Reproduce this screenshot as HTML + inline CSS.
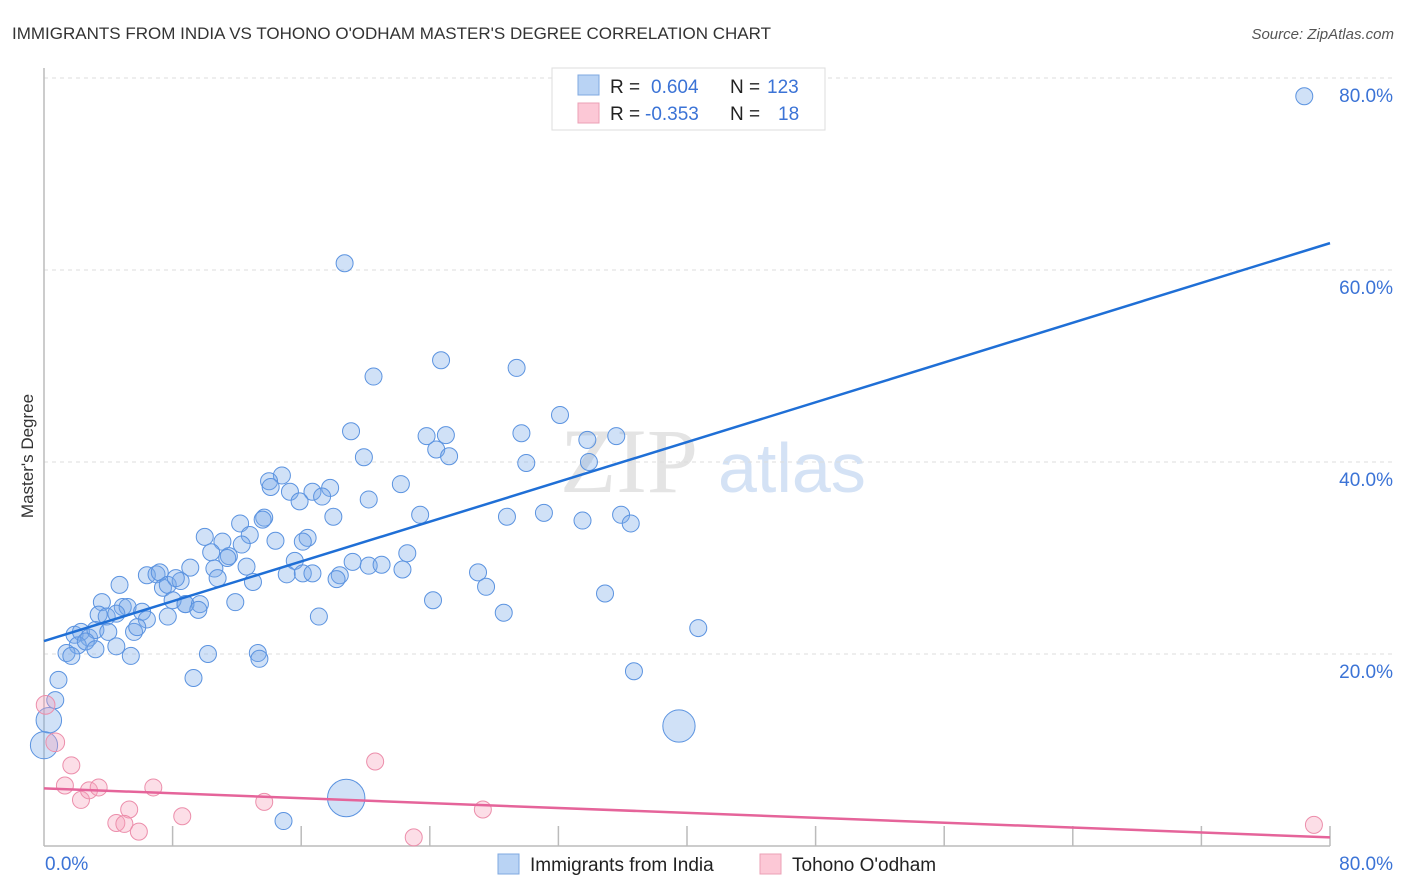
<!DOCTYPE html>
<html><head><meta charset="utf-8"><style>
body{margin:0;background:#fff;font-family:"Liberation Sans",sans-serif;}
#wrap{position:relative;width:1406px;height:892px;overflow:hidden;}
</style></head><body>
<div id="wrap">
<svg id="svg" width="1406" height="892" xmlns="http://www.w3.org/2000/svg">
<text x="12" y="39" font-size="17" fill="#333">IMMIGRANTS FROM INDIA VS TOHONO O'ODHAM MASTER'S DEGREE CORRELATION CHART</text>
<text x="1394" y="39" font-size="15" fill="#555" font-style="italic" text-anchor="end">Source: ZipAtlas.com</text>
<text transform="translate(33,456) rotate(-90)" font-size="17" fill="#333" text-anchor="middle">Master's Degree</text>
<text x="560" y="492" font-size="92" fill="#e4e4e4" font-family="Liberation Serif,serif">ZIP</text>
<text x="718" y="492" font-size="70" fill="#d4e2f5">atlas</text>
<g id="grid"></g>
<line x1="44" y1="68" x2="44" y2="846" stroke="#bbb" stroke-width="1.5"/>
<line x1="44" y1="846" x2="1330" y2="846" stroke="#bbb" stroke-width="1.5"/>
<g id="xticks"></g>
<g id="blue"></g>
<g id="pink"></g>
<g id="lines"></g>
<text x="45" y="870" font-size="19" fill="#3b73d6">0.0%</text>
<text x="1393" y="870" font-size="19" fill="#3b73d6" text-anchor="end">80.0%</text>
<g>
<rect x="552" y="68" width="273" height="62" fill="#fff" stroke="#ddd"/>
<rect x="578" y="75" width="21" height="20" fill="#b9d3f4" stroke="#7fa8e0"/>
<rect x="578" y="103" width="21" height="20" fill="#fcc8d6" stroke="#eba0b6"/>
<text x="610" y="93" font-size="19" fill="#222">R =</text>
<text x="651" y="93" font-size="19" fill="#3b73d6">0.604</text>
<text x="730" y="93" font-size="19" fill="#222">N =</text>
<text x="767" y="93" font-size="19" fill="#3b73d6">123</text>
<text x="610" y="120" font-size="19" fill="#222">R =</text>
<text x="645" y="120" font-size="19" fill="#3b73d6">-0.353</text>
<text x="730" y="120" font-size="19" fill="#222">N =</text>
<text x="778" y="120" font-size="19" fill="#3b73d6">18</text>
</g>
<g>
<rect x="498" y="854" width="21" height="20" fill="#b9d3f4" stroke="#7fa8e0"/>
<text x="530" y="871" font-size="19" fill="#222">Immigrants from India</text>
<rect x="760" y="854" width="21" height="20" fill="#fcc8d6" stroke="#eba0b6"/>
<text x="792" y="871" font-size="19" fill="#222">Tohono O'odham</text>
</g>
</svg>
</div>
<script>
const yTicks=[20,40,60,80];
const yTickLabels=["20.0%","40.0%","60.0%","80.0%"];
const xTickValues=[0,8,16,24,32,40,48,56,64,72,80];
const blueX=[78.4,18.7,24.7,29.4,20.5,32.1,19.1,23.8,25.0,29.7,33.8,35.6,24.4,25.2,19.9,33.9,30.0,14.8,14.0,14.1,22.2,15.3,16.7,17.8,17.3,15.9,20.2,12.2,13.7,13.6,18.0,23.4,28.8,31.1,33.5,35.9,36.5,10.0,12.8,11.1,14.4,16.4,16.1,12.3,10.4,11.5,22.6,11.4,19.2,15.6,6.4,7.0,7.2,9.1,10.6,12.6,10.8,13.0,15.1,16.1,16.7,18.4,18.2,20.2,21.0,22.3,27.0,27.5,4.7,7.4,7.7,8.5,8.2,3.6,4.9,5.2,6.1,8.8,8.0,8.8,9.7,11.9,24.2,34.9,3.4,3.9,4.5,6.4,7.7,9.6,17.1,28.6,1.9,2.3,2.8,3.2,4.0,5.6,5.8,2.1,2.6,1.4,1.7,3.2,4.5,5.4,10.2,13.3,13.4,40.7,9.3,36.7,0.9,0.7,0.3,0.0,39.5,18.8,14.9];
const blueY=[78.1,60.7,50.6,49.8,48.9,44.9,43.2,42.7,42.8,43.0,42.3,42.7,41.3,40.6,40.5,40.0,39.9,38.6,38.0,37.4,37.7,36.9,36.9,37.3,36.4,35.9,36.1,33.6,34.2,34.0,34.3,34.5,34.3,34.7,33.9,34.5,33.6,32.2,32.4,31.7,31.8,32.1,31.7,31.4,30.6,30.2,30.5,30.0,29.6,29.7,28.2,28.3,28.5,29.0,28.9,29.1,27.9,27.5,28.3,28.4,28.4,28.2,27.8,29.2,29.3,28.8,28.5,27.0,27.2,26.9,27.2,27.6,27.9,25.4,24.9,24.9,24.4,25.2,25.6,25.2,25.2,25.4,25.6,26.3,24.1,23.9,24.2,23.6,23.9,24.6,23.9,24.3,22.0,22.3,21.7,22.5,22.3,22.3,22.8,20.9,21.3,20.1,19.8,20.5,20.8,19.8,20.0,20.1,19.5,22.7,17.5,18.2,17.3,15.2,13.1,10.5,12.5,5.0,2.6];
const blueW=blueX.map((v,i)=>1);
blueW[114]=1.5;blueW[115]=1.6;blueW[116]=1.9;blueW[117]=2.2;
const pinkX=[0.1,0.7,1.7,1.3,2.3,2.8,3.4,6.8,20.6,5.3,4.5,5.0,5.9,8.6,13.7,23.0,27.3,79.0];
const pinkY=[14.7,10.8,8.4,6.3,4.8,5.8,6.1,6.1,8.8,3.8,2.4,2.3,1.5,3.1,4.6,0.9,3.8,2.2];
const pinkW=pinkX.map(()=>1);
pinkW[0]=1.1;pinkW[1]=1.1;
const blueLine=[21.35,62.8];
const pinkLine=[6.0,0.9];
const NS="http://www.w3.org/2000/svg";
function sx(v){return 44+v*(1330-44)/80;}
function sy(v){return 846-v*9.6;}
function mk(tag,attrs,parent){const e=document.createElementNS(NS,tag);for(const k in attrs)e.setAttribute(k,attrs[k]);document.getElementById(parent).appendChild(e);return e;}
yTicks.forEach((t,i)=>{
  const l=mk('line',{x1:44,x2:1392,y1:sy(t),y2:sy(t),stroke:'#ddd','stroke-dasharray':'4,4'},'grid');
  
  
  const tx=mk('text',{x:1393,y:sy(t)+24,'font-size':19,fill:'#3b73d6','text-anchor':'end'},'grid');
  tx.textContent=yTickLabels[i];
  
  
});
xTickValues.forEach((t,i)=>{
  if(i===0)return;
  const l=mk('line',{x1:sx(t),x2:sx(t),y1:826,y2:846,stroke:'#bbb','stroke-width':1.5},'xticks');
  
  
});
blueX.forEach((v,i)=>{
  const c=mk('circle',{cx:sx(v),cy:sy(blueY[i]),r:8.5*blueW[i],fill:'rgba(120,168,232,0.35)',stroke:'#5b93e0','stroke-width':1},'blue');
  
  
});
pinkX.forEach((v,i)=>{
  const c=mk('circle',{cx:sx(v),cy:sy(pinkY[i]),r:8.5*pinkW[i],fill:'rgba(245,160,185,0.35)',stroke:'#ec8eab','stroke-width':1},'pink');
  
  
});
const bl=mk('line',{x1:sx(0),y1:sy(blueLine[0]),x2:sx(80),y2:sy(blueLine[1]),stroke:'#1f6fd6','stroke-width':2.5},'lines');


const pl=mk('line',{x1:sx(0),y1:sy(pinkLine[0]),x2:sx(80),y2:sy(pinkLine[1]),stroke:'#e5649a','stroke-width':2.5},'lines');


</script>
</body></html>
